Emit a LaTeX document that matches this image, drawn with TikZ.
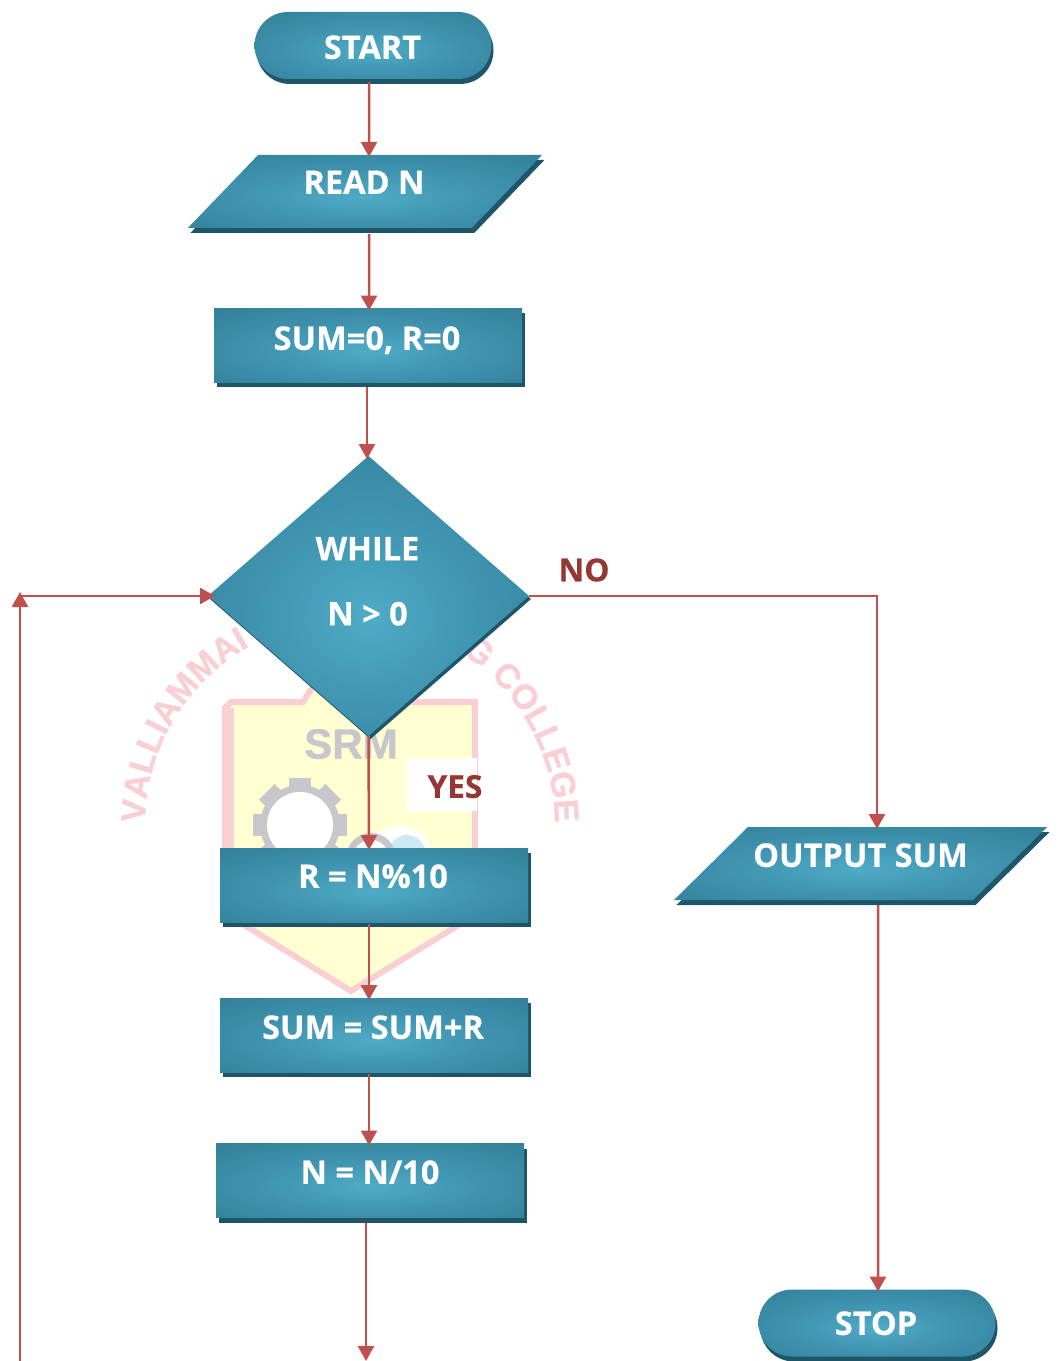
\documentclass[tikz,border=0pt]{standalone}
\usepackage{fontspec}
\usepackage{tikz}
\usetikzlibrary{arrows.meta, shapes.geometric, shapes.misc, shadows, decorations.text}
\setmainfont{Open Sans}[BoldFeatures={FakeBold=0.5}]
\newfontfamily\markfont{Liberation Sans}[BoldFeatures={FakeBold=1}]
\newlength\px
\setlength\px{0.02cm}
\definecolor{tealglow}{HTML}{4FABC7}
\definecolor{tealmid}{HTML}{3F93AE}
\definecolor{tealedge}{HTML}{327F98}
\definecolor{tealshade}{HTML}{1F5568}
\definecolor{flowred}{HTML}{C0504D}
\definecolor{labelred}{HTML}{953735}
\definecolor{markpink}{HTML}{F9CFD4}
\definecolor{markyellow}{HTML}{FFFFD2}
\definecolor{markgrey}{HTML}{C6C6CB}
\definecolor{markblue}{HTML}{CDE9F1}
\pgfdeclareradialshading{tealshine}{\pgfpoint{0bp}{-4bp}}{color(0bp)=(tealglow); color(18bp)=(tealmid); color(38bp)=(tealedge); color(100bp)=(tealedge)}
\newcommand{\boxtext}[3]{\raisebox{#2\px}[1pt][0pt]{\makebox[1pt]{\kern#1\px #3\kern-#1\px}}}
\tikzset{
  flowshape/.style={shade, shading=tealshine, text=white, inner sep=0pt, outer sep=0pt, font=\fontsize{18.5}{20}\selectfont\bfseries},
  flowrect/.style={flowshape, rectangle, minimum width=308\px, minimum height=74\px, general shadow={fill=tealshade, shadow xshift=2.5\px, shadow yshift=-5\px}},
  flowterm/.style={flowshape, rounded rectangle, minimum width=237\px, minimum height=67\px, general shadow={fill=tealshade, shadow xshift=2\px, shadow yshift=-5\px}},
  flowio/.style={flowshape, trapezium, trapezium left angle=71.8, trapezium right angle=108.2, trapezium stretches=true, minimum height=73\px, general shadow={fill=tealshade, shadow xshift=2.5\px, shadow yshift=-5\px}},
  flowtest/.style={flowshape, diamond, minimum width=321\px, minimum height=280\px, general shadow={fill=tealshade, shadow xshift=2\px, shadow yshift=-3\px}},
  flowline/.style={draw=flowred, line width=2.5\px},
  flowarrow/.style={flowline, -{Triangle[width=0.32cm,length=0.3cm]}, shorten >=-2\px},
  flowlabel/.style={text=labelred, inner sep=0pt, font=\fontsize{18}{20}\selectfont\bfseries}
}
\begin{document}
\begin{tikzpicture}[x=1\px, y=-1\px]
\useasboundingbox (0,0) rectangle (1058,1361);
% watermark
\draw[draw=markpink, fill=markyellow, line width=6\px] (225,708) -- (231,702) -- (303,702) -- (313,686) -- (390,686) -- (400,702) -- (475,702) -- (475,915) -- (351,991) -- (228,915) -- cycle;
\draw[draw=markpink, line width=12\px] (228,708) -- (228,915);
\foreach \a in {0,45,...,315}
  \fill[markgrey, rotate around={\a:(300,825)}] (289,778) rectangle (311,800);
\fill[markgrey] (300,825) circle [radius=40];
\fill[white] (300,825) circle [radius=33];
\fill[white] (400,850) ellipse [x radius=30, y radius=24];
\fill[markblue] (407,855) ellipse [x radius=19, y radius=20];
\fill[markgrey] (371,858) circle [radius=25];
\fill[white] (371,858) circle [radius=18];
\node[inner sep=0pt, text=markgrey, font=\fontsize{24}{26}\selectfont\markfont\bfseries] (srm) at (351,744) {SRM};
\path[decorate, decoration={text along path, text align=center, text={|\fontsize{19.5}{24}\selectfont\markfont\bfseries\color{markpink}|VALLIAMMAI ENGINEERING COLLEGE}}] (350,825) ++(170:205) arc [start angle=170, end angle=370, radius=205];
% flowchart
\node[flowterm] (start) at (373,45.5) {\boxtext{-0.5}{-12.5}{START}};
\node[flowio, minimum width=354\px] (read) at (365,191.4) {\boxtext{-1}{-1.6}{READ N}};
\node[flowrect] (init) at (368,345.5) {\boxtext{-1}{-3.5}{SUM=0, R=0}};
\node[flowtest] (while) at (368.5,596) {\boxtext{-1}{3.5}{\begin{tabular}{c}WHILE\\[30\px]N > 0\end{tabular}}};
\node[flowrect] (rem) at (374,885) {\boxtext{-1}{-2}{R = N\%10}};
\node[flowrect] (add) at (374,1035) {\boxtext{-1}{-3}{SUM = SUM+R}};
\node[flowrect] (div) at (370,1180.5) {\boxtext{0}{-2.5}{N = N/10}};
\node[flowio, minimum width=373\px] (output) at (860.5,863.5) {\boxtext{0}{-2.5}{OUTPUT SUM}};
\node[flowterm] (stop) at (877,1323) {\boxtext{-1}{-11}{STOP}};
\node[flowlabel] (no) at (584,570) {NO};
\node[flowlabel, fill=white, minimum width=70\px, minimum height=53\px] (yes) at (442,784.5) {\boxtext{13}{-12.5}{YES}};
%
\coordinate (loopend) at (366,1359);
\coordinate (backstart) at (20,1361);
\coordinate (backcorner) at (20,596);
\coordinate (nocorner) at (877,596);
%
\draw[flowarrow] ([xshift=-4\px, yshift=-3\px]start.south) -- ([xshift=4\px]read.north);
\draw[flowarrow] ([xshift=4\px, yshift=-6\px]read.south) -- ([xshift=1\px]init.north);
\draw[flowarrow] ([xshift=-1\px, yshift=-5\px]init.south) -- ([xshift=-1.5\px, yshift=-1\px]while.north);
\draw[flowarrow] (while.south) -- ([xshift=-5\px]rem.north);
\draw[flowarrow] ([xshift=-5\px, yshift=-2\px]rem.south) -- ([xshift=-5\px]add.north);
\draw[flowarrow] ([xshift=-5\px, yshift=-2\px]add.south) -- ([xshift=-1\px]div.north);
\draw[flowarrow] ([xshift=-4\px, yshift=-5\px]div.south) -- (loopend);
\draw[flowarrow] (backstart) -- ([yshift=2\px]backcorner);
\draw[flowarrow] (backcorner) -- ([xshift=5\px]while.west);
\draw[flowarrow] (while.east) -- (nocorner) -- (nocorner |- output.north);
\draw[flowarrow] ([xshift=17.5\px, yshift=-5\px]output.south) -- ([xshift=1\px]stop.north);
\end{tikzpicture}
\end{document}
